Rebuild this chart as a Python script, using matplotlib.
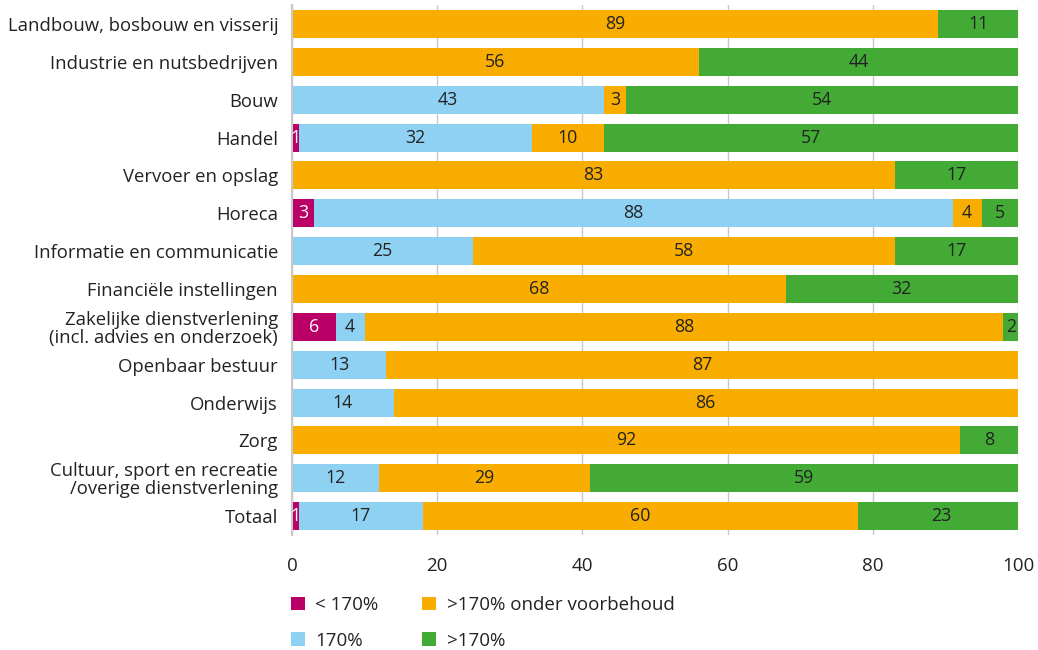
import matplotlib
matplotlib.use("Agg")
import matplotlib.pyplot as plt
import numpy as np

categories = [
    "Landbouw, bosbouw en visserij",
    "Industrie en nutsbedrijven",
    "Bouw",
    "Handel",
    "Vervoer en opslag",
    "Horeca",
    "Informatie en communicatie",
    "Financiële instellingen",
    "Zakelijke dienstverlening\n(incl. advies en onderzoek)",
    "Openbaar bestuur",
    "Onderwijs",
    "Zorg",
    "Cultuur, sport en recreatie\n/overige dienstverlening",
    "Totaal",
]
below_170 = [0, 0, 0, 1, 0, 3, 0, 0, 6, 0, 0, 0, 0, 1]
at_170 = [0, 0, 43, 32, 0, 88, 25, 0, 4, 13, 14, 0, 12, 17]
above_170_cond = [89, 56, 3, 10, 83, 4, 58, 68, 88, 87, 86, 92, 29, 60]
above_170 = [11, 44, 54, 57, 17, 5, 17, 32, 2, 0, 0, 8, 59, 23]

series_names = ["< 170%", "170%", ">170% onder voorbehoud", ">170%"]
colors = ["#BA0066", "#8FD1F2", "#F9AD00", "#42AA35"]
text_colors = ["white", "#222222", "#222222", "#222222"]
xticks = [0, 20, 40, 60, 80, 100]

plt.rcParams['font.family'] = ['Open Sans', 'DejaVu Sans']

fig = plt.figure(figsize=(10.38, 6.5), dpi=100)
ax = fig.add_axes([0.2813, 0.1769, 0.6994, 0.8154])

y = np.arange(len(categories))
left = np.zeros(len(categories))
handles = []
for vals, col, tcol, name in zip([below_170, at_170, above_170_cond, above_170],
                                 colors, text_colors, series_names):
    vals = np.array(vals, dtype=float)
    bars = ax.barh(y, vals, left=left, height=0.74, color=col, label=name, zorder=3)
    handles.append(bars)
    for yi, (l, v) in enumerate(zip(left, vals)):
        if v > 0:
            ax.text(l + v / 2, yi, f"{int(v)}", ha="center", va="center",
                    color=tcol, fontsize=12.8, zorder=4)
    left += vals

ax.set_ylim(len(categories) - 0.5, -0.5)
ax.set_xlim(0, 100)
ax.set_yticks(y)
ax.set_yticklabels(categories, fontsize=13.3, color="#222222", linespacing=1.0)
ax.set_xticks(xticks)
ax.set_xticklabels([str(t) for t in xticks], fontsize=13.5, color="#222222")
ax.tick_params(axis="both", length=0)
ax.tick_params(axis="x", pad=16)
ax.tick_params(axis="y", pad=10)
ax.grid(axis="x", color="#C8C8C8", linewidth=1, zorder=0)
for s in ["top", "right", "bottom"]:
    ax.spines[s].set_visible(False)
ax.spines["left"].set_color("#C8C8C8")
ax.spines["left"].set_linewidth(1.5)
ax.spines["left"].set_zorder(5)

fig.legend(handles=handles, labels=series_names, ncol=2, loc="upper left",
           bbox_to_anchor=(0.280, 0.083), frameon=False, fontsize=13.5,
           handlelength=0.75, handleheight=0.75, handletextpad=0.55,
           columnspacing=2.35, labelspacing=0.95, borderaxespad=0,
           borderpad=0, labelcolor="#222222")

fig.savefig("out.png", dpi=100)
